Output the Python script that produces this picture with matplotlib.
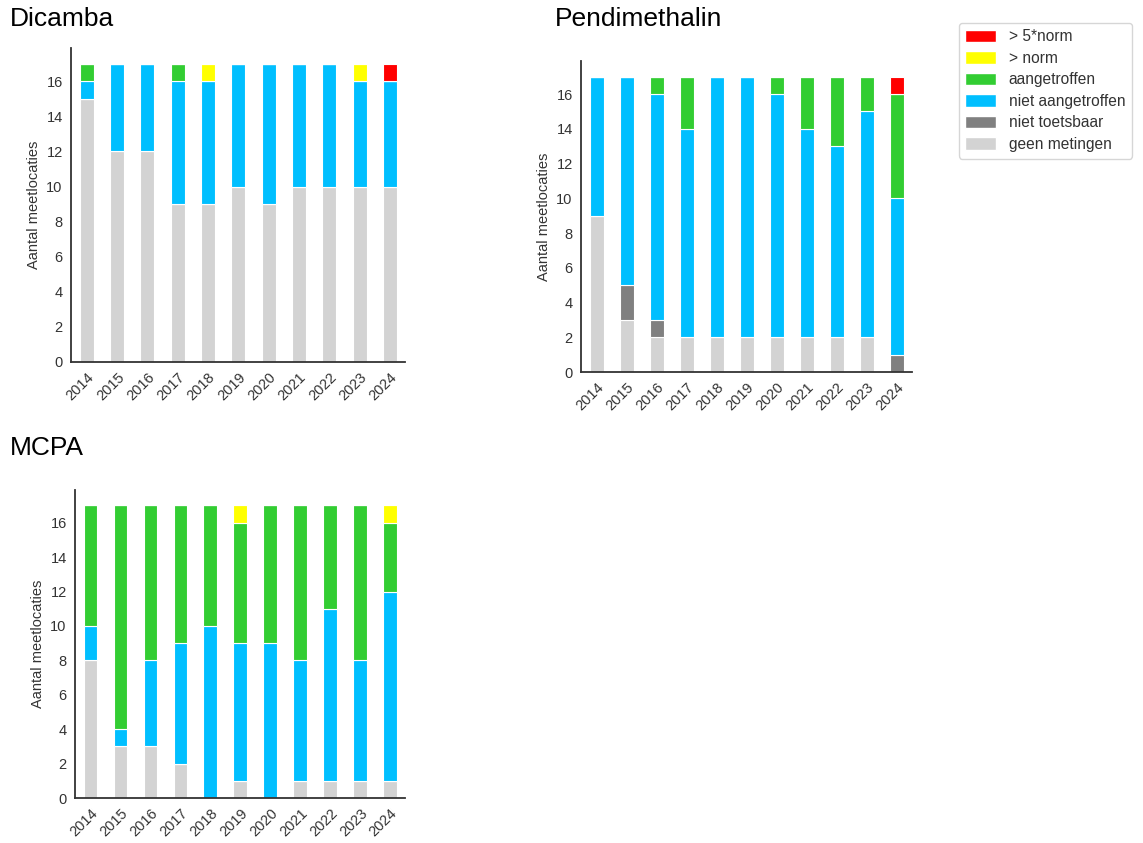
import numpy as np
import matplotlib
matplotlib.use('Agg')
from matplotlib import pyplot as plt
from matplotlib.patches import Patch

plt.rcParams['font.family'] = ['Liberation Sans', 'DejaVu Sans']

years = ['2014', '2015', '2016', '2017', '2018', '2019', '2020', '2021', '2022', '2023', '2024']

# stacking order bottom -> top
categories = ['geen metingen', 'niet toetsbaar', 'niet aangetroffen', 'aangetroffen', '> norm', '> 5*norm']
colors = ['#d3d3d3', '#808080', '#00bfff', '#32cd32', '#ffff00', '#ff0000']

dicamba = {
    'geen metingen':     [15, 12, 12, 9, 9, 10, 9, 10, 10, 10, 10],
    'niet toetsbaar':    [0, 0, 0, 0, 0, 0, 0, 0, 0, 0, 0],
    'niet aangetroffen': [1, 5, 5, 7, 7, 7, 8, 7, 7, 6, 6],
    'aangetroffen':      [1, 0, 0, 1, 0, 0, 0, 0, 0, 0, 0],
    '> norm':            [0, 0, 0, 0, 1, 0, 0, 0, 0, 1, 0],
    '> 5*norm':          [0, 0, 0, 0, 0, 0, 0, 0, 0, 0, 1],
}
pendimethalin = {
    'geen metingen':     [9, 3, 2, 2, 2, 2, 2, 2, 2, 2, 0],
    'niet toetsbaar':    [0, 2, 1, 0, 0, 0, 0, 0, 0, 0, 1],
    'niet aangetroffen': [8, 12, 13, 12, 15, 15, 14, 12, 11, 13, 9],
    'aangetroffen':      [0, 0, 1, 3, 0, 0, 1, 3, 4, 2, 6],
    '> norm':            [0, 0, 0, 0, 0, 0, 0, 0, 0, 0, 0],
    '> 5*norm':          [0, 0, 0, 0, 0, 0, 0, 0, 0, 0, 1],
}
mcpa = {
    'geen metingen':     [8, 3, 3, 2, 0, 1, 0, 1, 1, 1, 1],
    'niet toetsbaar':    [0, 0, 0, 0, 0, 0, 0, 0, 0, 0, 0],
    'niet aangetroffen': [2, 1, 5, 7, 10, 8, 9, 7, 10, 7, 11],
    'aangetroffen':      [7, 13, 9, 8, 7, 7, 8, 9, 6, 9, 4],
    '> norm':            [0, 0, 0, 0, 0, 1, 0, 0, 0, 0, 1],
    '> 5*norm':          [0, 0, 0, 0, 0, 0, 0, 0, 0, 0, 0],
}

W, H = 1143, 843


def px_axes(fig, left, top, right, bottom):
    return fig.add_axes([left / W, 1 - bottom / H, (right - left) / W, (bottom - top) / H])


def stacked(ax, data):
    x = np.arange(len(years))
    bottom = np.zeros(len(years))
    for cat, col in zip(categories, colors):
        vals = np.array(data[cat], dtype=float)
        ax.bar(x, vals, 0.46, bottom=bottom, color=col, edgecolor='white', linewidth=0.8)
        bottom += vals
    ax.set_xlim(-0.52, 10.5)
    ax.set_ylim(0, 17.9)
    ax.set_yticks(range(0, 17, 2))
    ax.set_xticks(x)
    ax.set_xticklabels(years, rotation=45, ha='right', rotation_mode='anchor')
    ax.tick_params(length=0, labelsize=10.5, colors='#333333', pad=6)
    ax.set_ylabel('Aantal meetlocaties', fontsize=10.5, color='#333333')
    for s in ['top', 'right']:
        ax.spines[s].set_visible(False)
    for s in ['left', 'bottom']:
        ax.spines[s].set_color('#333333')
        ax.spines[s].set_linewidth(1.3)


fig = plt.figure(figsize=(W / 100, H / 100), dpi=100)

ax1 = px_axes(fig, 71, 48, 405, 362)
stacked(ax1, dicamba)
ax2 = px_axes(fig, 581, 61, 912, 372)
stacked(ax2, pendimethalin)
ax3 = px_axes(fig, 75, 490, 405, 798)
stacked(ax3, mcpa)

fig.text(10 / W, 1 - 7 / H, 'Dicamba', fontsize=19, va='top', ha='left')
fig.text(555 / W, 1 - 7 / H, 'Pendimethalin', fontsize=19, va='top', ha='left')
fig.text(10 / W, 1 - 436 / H, 'MCPA', fontsize=19, va='top', ha='left')

handles = [Patch(facecolor=c, edgecolor='white') for c in colors[::-1]]
fig.legend(handles, categories[::-1], loc='upper left', bbox_to_anchor=(951 / W, 1 - 15 / H),
           fontsize=11.2, frameon=True, edgecolor='#cccccc', handlelength=1.95, handleheight=0.85,
           labelspacing=0.42, borderpad=0.42, handletextpad=0.85, labelcolor='#333333')

fig.savefig('out.png', dpi=100)
